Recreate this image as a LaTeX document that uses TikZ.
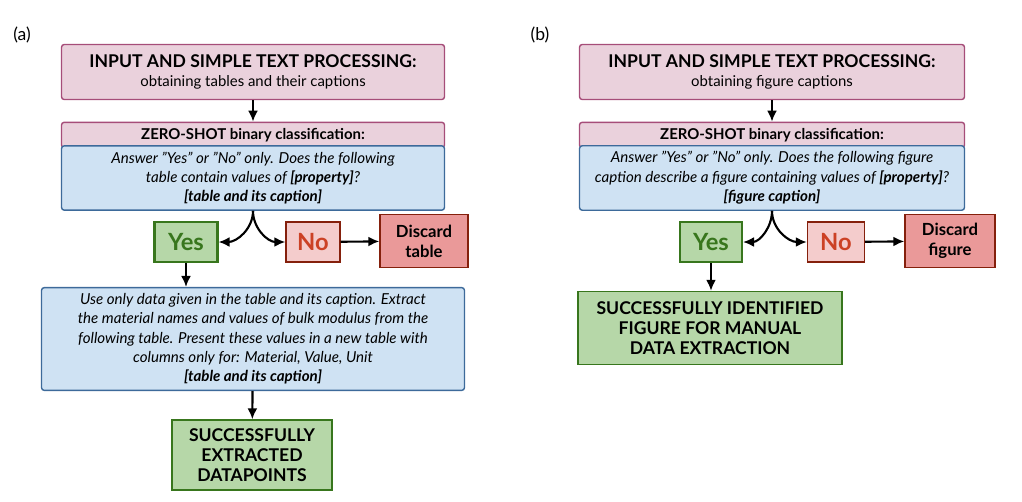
\documentclass[tikz,border=0pt]{standalone}
\usepackage{fontspec}
\setmainfont{Lato}
\usetikzlibrary{arrows.meta}
\definecolor{pinkfill}{HTML}{EAD1DC}
\definecolor{pinkdraw}{HTML}{A64D79}
\definecolor{bluefill}{HTML}{CFE2F3}
\definecolor{bluedraw}{HTML}{3D6A9A}
\definecolor{greenfill}{HTML}{B6D7A8}
\definecolor{greendraw}{HTML}{38761D}
\definecolor{nofill}{HTML}{F4CCCC}
\definecolor{reddraw}{HTML}{85200C}
\definecolor{redtext}{HTML}{CC4125}
\definecolor{discfill}{HTML}{EA9999}
\newcommand{\qq}{\char34}
\begin{document}
\begin{tikzpicture}
   [x=0.02cm, y=-0.02cm,
   titlebox/.style={rectangle, rounded corners=1.5pt, draw=pinkdraw, fill=pinkfill, thick, align=center, font=\fontsize{8.5}{11}\selectfont},
   promptbox/.style={rectangle, rounded corners=1.5pt, draw=bluedraw, fill=bluefill, thick, align=center, font=\fontsize{8.6}{11}\selectfont\itshape},
   yesbox/.style={rectangle, draw=greendraw, fill=greenfill, very thick, text=greendraw, font=\fontsize{13.5}{15}\selectfont\bfseries, minimum height=0.8cm},
   nobox/.style={rectangle, draw=reddraw, fill=nofill, thick, text=redtext, font=\fontsize{13.5}{15}\selectfont\bfseries, minimum height=0.8cm},
   discardbox/.style={rectangle, draw=reddraw, fill=discfill, thick, align=center, font=\fontsize{9.5}{11.5}\selectfont\bfseries, minimum height=1.06cm},
   donebox/.style={rectangle, draw=greendraw, fill=greenfill, thick, align=center, font=\fontsize{10}{11.5}\selectfont\bfseries},
   big/.style={font=\fontsize{10}{12}\selectfont\bfseries},
   arr/.style={-{Latex[length=2.2mm,width=2mm]}, very thick},
   ]
 \useasboundingbox (0,0) rectangle (1022,501);
 % (a) tables
 \node at (22,35) (la) {\fontsize{10}{12}\selectfont (a)};
 \node at (253,72) [titlebox, minimum width=7.66cm, minimum height=1.1cm] (ain) {{\fontsize{10}{12}\selectfont\bfseries INPUT AND SIMPLE TEXT PROCESSING:}\\obtaining tables and their captions};
 \node at (253,135) [titlebox, minimum width=7.66cm, minimum height=0.5cm] (azs) {\textbf{ZERO-SHOT binary classification:}};
 \node at (253,178) [promptbox, minimum width=7.66cm, minimum height=1.2cm] (aq) {Answer \qq Yes\qq\ or \qq No\qq\ only. Does the following\\table contain values of \textbf{[property]}?\\\textbf{[table and its caption]}};
 \node at (186,242) [yesbox, minimum width=1.26cm] (ayes) {Yes};
 \node at (313,242) [nobox, minimum width=1.08cm] (ano) {No};
 \node at (424,241) [discardbox, minimum width=1.76cm] (adisc) {Discard\\table};
 \node at (253,339) [promptbox, minimum width=8.46cm, minimum height=1.96cm] (aext) {Use only data given in the table and its caption. Extract\\the material names and values of bulk modulus from the\\following table. Present these values in a new table with\\columns only for: Material, Value, Unit\\\textbf{[table and its caption]}};
 \node at (252,455) [donebox, minimum width=3.2cm, minimum height=1.4cm] (adone) {SUCCESSFULLY\\EXTRACTED\\DATAPOINTS};
 \draw[arr] (ain) -- (azs);
 \draw[arr] (aq.south) to[out=-90,in=0] (ayes.east);
 \draw[arr] (aq.south) to[out=-90,in=180] (ano.west);
 \draw[arr] (ano) -- (adisc);
 \draw[arr] (ayes.south) -- (ayes.south |- aext.north);
 \draw[arr] (aext) -- (adone);
 % (b) figures
 \node at (540,35) (lb) {\fontsize{10}{12}\selectfont (b)};
 \node at (772,72) [titlebox, minimum width=7.7cm, minimum height=1.1cm] (bin) {{\fontsize{10}{12}\selectfont\bfseries INPUT AND SIMPLE TEXT PROCESSING:}\\obtaining figure captions};
 \node at (772,135) [titlebox, minimum width=7.7cm, minimum height=0.5cm] (bzs) {\textbf{ZERO-SHOT binary classification:}};
 \node at (772,178) [promptbox, minimum width=7.7cm, minimum height=1.2cm] (bq) {Answer \qq Yes\qq\ or \qq No\qq\ only. Does the following figure\\caption describe a figure containing values of \textbf{[property]}?\\\textbf{[figure caption]}};
 \node at (711,242) [yesbox, minimum width=1.24cm] (byes) {Yes};
 \node at (836,242) [nobox, minimum width=1.14cm] (bno) {No};
 \node at (950,241) [discardbox, minimum width=1.8cm] (bdisc) {Discard\\figure};
 \node at (710,328) [donebox, minimum width=5.28cm, minimum height=1.46cm] (bdone) {SUCCESSFULLY IDENTIFIED\\FIGURE FOR MANUAL\\DATA EXTRACTION};
 \draw[arr] (bin) -- (bzs);
 \draw[arr] (bq.south) to[out=-90,in=0] (byes.east);
 \draw[arr] (bq.south) to[out=-90,in=180] (bno.west);
 \draw[arr] (bno) -- (bdisc);
 \draw[arr] (byes.south) -- (byes.south |- bdone.north);
\end{tikzpicture}
\end{document}
